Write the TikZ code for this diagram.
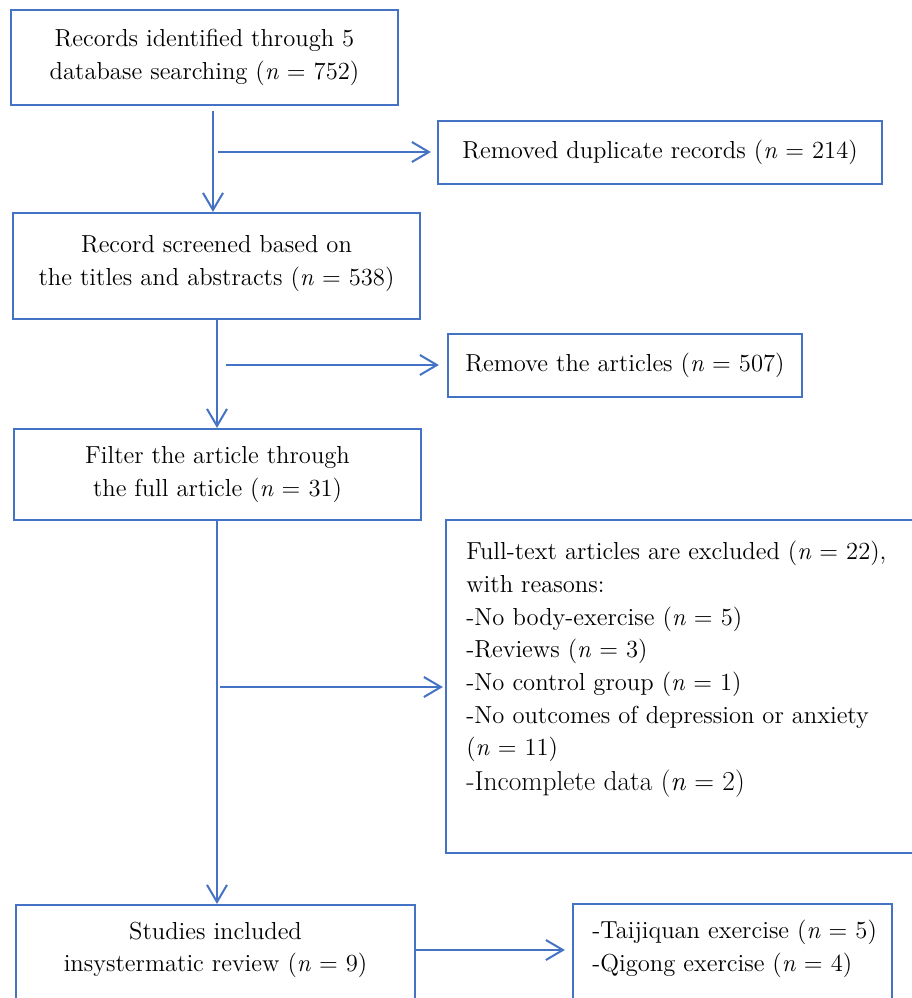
\documentclass[tikz,border=0pt]{standalone}
\usetikzlibrary{arrows.meta}
\definecolor{flowblue}{RGB}{68,114,196}
\tikzset{
box/.style={draw=flowblue,line width=0.45mm,align=center,inner sep=0pt},
list/.style={align=left,inner sep=0pt},
flow/.style={-{Straight Barb[length=3.4mm,width=4mm]},draw=flowblue,line width=0.4mm}
}
\begin{document}
\begin{tikzpicture}[x=0.2mm,y=-0.2mm,every node/.style={font=\fontsize{14}{18.6}\selectfont}]
\useasboundingbox (0,0) rectangle (912,998);
\node[box,minimum width=77.4mm,minimum height=19mm] (ident) at (204.5,57.5) {Records identified through 5\\database searching (\textit{n} = 752)};
\node[box,minimum width=88.8mm,minimum height=12.6mm] (dupl) at (660,152.5) {Removed duplicate records (\textit{n} = 214)};
\node[box,minimum width=81.4mm,minimum height=21.2mm,text depth=2.2mm] (screen) at (216.5,266) {Record screened based on\\the titles and abstracts (\textit{n} = 538)};
\node[box,minimum width=70.8mm,minimum height=12.6mm] (remov) at (625,365.5) {Remove the articles (\textit{n} = 507)};
\node[box,minimum width=81.4mm,minimum height=18.2mm] (filter) at (217.5,474.5) {Filter the article through\\the full article (\textit{n} = 31)};
\node[box,minimum width=98.8mm,minimum height=66.6mm] (excl) at (693,686.5) {};
\node[list,anchor=north west] (excltxt) at (466,541) {Full-text articles are excluded (\textit{n} = 22),\\with reasons:\\-No body-exercise (\textit{n} = 5)\\-Reviews (\textit{n} = 3)\\-No control group (\textit{n} = 1)\\-No outcomes of depression or anxiety\\(\textit{n} = 11)\\[1pt]\fontsize{15.6}{18.6}\selectfont -Incomplete data (\textit{n} = 2)};
\node[box,minimum width=79.8mm,minimum height=23mm] (incl) at (215.5,962.5) {};
\node[align=center,inner sep=0pt] (incltxt) at (215.5,950) {Studies included\\insystermatic review (\textit{n} = 9)};
\node[box,minimum width=63.8mm,minimum height=23.2mm] (types) at (732.5,962) {};
\node[list,anchor=west] (typestxt) at (592,949) {-Taijiquan exercise (\textit{n} = 5)\\-Qigong exercise (\textit{n} = 4)};
\coordinate (t1) at (213,111);
\coordinate (h1) at (218,152);
\coordinate (t2) at (217,320);
\coordinate (h2) at (226,365);
\coordinate (t3) at (217,521);
\coordinate (h3) at (220,687);
\draw[flow] (t1) -- (t1 |- screen.north);
\draw[flow,shorten >=1.2mm] (h1) -- (h1 -| dupl.west);
\draw[flow] (t2) -- (t2 |- filter.north);
\draw[flow,shorten >=1.6mm] (h2) -- (h2 -| remov.west);
\draw[flow] (t3) -- (t3 |- incl.north);
\draw[flow,shorten >=0.4mm] (h3) -- (h3 -| excl.west);
\draw[flow,shorten >=1.4mm] (incltxt -| incl.east) -- (incltxt -| types.west);
\end{tikzpicture}
\end{document}
